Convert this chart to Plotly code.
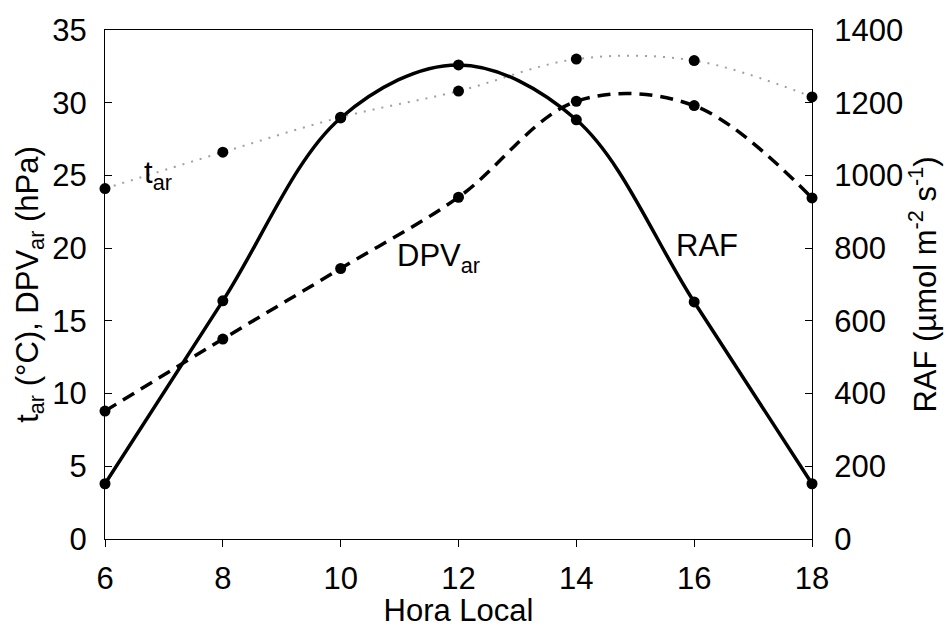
import plotly.graph_objects as go

hours = [6, 8, 10, 12, 14, 16, 18]
t_ar = [24.1, 26.6, 29.0, 30.8, 33.0, 32.9, 30.4]
dpv_ar = [8.8, 13.75, 18.6, 23.5, 30.1, 29.8, 23.45]
raf = [152, 655, 1158, 1304, 1153, 652, 152]

left_ticks = [0, 5, 10, 15, 20, 25, 30, 35]
right_ticks = [0, 200, 400, 600, 800, 1000, 1200, 1400]
x_ticks = [6, 8, 10, 12, 14, 16, 18]

FONT = "Liberation Sans, Arial, sans-serif"
FS = 31

fig = go.Figure()

fig.add_trace(go.Scatter(
    x=hours, y=t_ar, mode="lines", line=dict(shape="spline", color="#a0a0a0", width=2, dash="2px,7px"),
    cliponaxis=False, showlegend=False, name="t_ar"))
fig.add_trace(go.Scatter(
    x=hours, y=t_ar, mode="markers", marker=dict(color="black", size=11),
    cliponaxis=False, showlegend=False, name="t_ar pts"))
fig.add_trace(go.Scatter(
    x=hours, y=dpv_ar, mode="lines+markers", line=dict(shape="spline", color="black", width=3.5, dash="13px,8px"),
    marker=dict(color="black", size=11), cliponaxis=False, showlegend=False, name="DPV_ar"))
fig.add_trace(go.Scatter(
    x=hours, y=raf, mode="lines+markers", yaxis="y2", line=dict(shape="spline", color="black", width=3.5),
    marker=dict(color="black", size=11), cliponaxis=False, showlegend=False, name="RAF"))

fig.update_layout(
    width=949, height=628,
    margin=dict(l=105, r=137, t=30, b=89, autoexpand=False),
    paper_bgcolor="white", plot_bgcolor="white",
    font=dict(family=FONT, size=FS, color="black"),
    xaxis=dict(
        range=[6, 18], tickvals=x_ticks, ticktext=[str(v) for v in x_ticks],
        ticks="outside", ticklen=7, tickwidth=1.2, tickcolor="black",
        showline=True, linecolor="black", linewidth=1.2, mirror=True,
        showgrid=False, zeroline=False, ticklabelstandoff=5,
        title=dict(text="Hora Local", standoff=3, font=dict(size=FS)),
        automargin=False,
    ),
    yaxis=dict(
        range=[0, 35], tickvals=left_ticks, ticktext=[str(v) for v in left_ticks],
        ticks="inside", ticklen=7, tickwidth=1.2, tickcolor="black",
        showline=True, linecolor="black", linewidth=1.2,
        showgrid=False, zeroline=False, ticklabelstandoff=11,
        title=dict(text="t<sub>ar</sub> (°C), DPV<sub>ar</sub> (hPa)", standoff=4, font=dict(size=FS)),
        automargin=False,
    ),
    yaxis2=dict(
        range=[0, 1400], tickvals=right_ticks, ticktext=[str(v) for v in right_ticks],
        overlaying="y", side="right",
        ticks="inside", ticklen=7, tickwidth=1.2, tickcolor="black",
        showline=True, linecolor="black", linewidth=1.2,
        showgrid=False, zeroline=False, ticklabelstandoff=15,
        title=dict(text="RAF (µmol m<sup>-2</sup> s<sup>-1</sup>)", standoff=4, font=dict(size=FS)),
        automargin=False,
    ),
)

fig.add_annotation(x=6.62, y=25.0, xref="x", yref="y", text="t<sub>ar</sub>", showarrow=False,
                   xanchor="left", yanchor="middle", font=dict(size=FS))
fig.add_annotation(x=10.93, y=19.3, xref="x", yref="y", text="DPV<sub>ar</sub>", showarrow=False,
                   xanchor="left", yanchor="middle", font=dict(size=FS))
fig.add_annotation(x=15.66, y=20.15, xref="x", yref="y", text="RAF", showarrow=False,
                   xanchor="left", yanchor="middle", font=dict(size=FS))

fig.write_html("out.html")
